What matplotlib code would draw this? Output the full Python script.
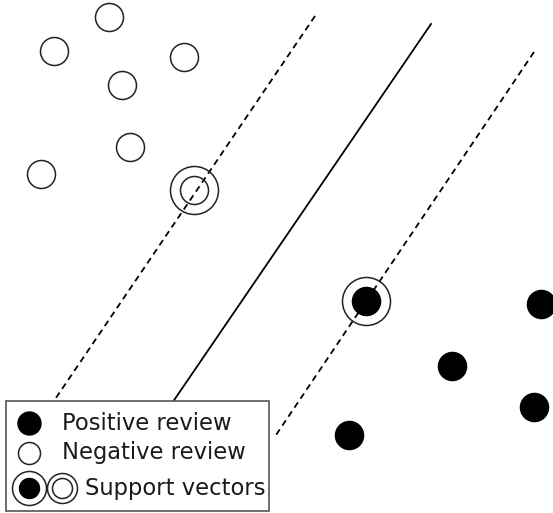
import matplotlib
matplotlib.use("Agg")
import matplotlib.pyplot as plt
from matplotlib.patches import Rectangle

# ------------------------
# Data (pixel-like coordinates, y grows downward)
# ------------------------
neg_x = [109, 54, 184, 122, 130, 41, 194]
neg_y = [17, 51, 57, 85, 147, 174, 190]
pos_x = [366, 541, 452, 534, 349]
pos_y = [301, 304, 366, 407, 435]
sv_x = [194, 366]
sv_y = [190, 301]

# hyperplane and margins (top end, bottom end)
hyper_x = [431, 125]
hyper_y = [24, 472]
margin_left_x = [315, 22]
margin_left_y = [16, 448]
margin_right_x = [534, 274]
margin_right_y = [52, 438]

legend_labels = ["Positive review", "Negative review", "Support vectors"]

PX = 72 / 100  # pixel -> point at dpi 100
EDGE = "#222222"

# ------------------------
# Figure
# ------------------------
fig = plt.figure(figsize=(5.53, 5.13), dpi=100)
ax = fig.add_axes([0, 0, 1, 1])
ax.set_xlim(0, 553)
ax.set_ylim(513, 0)
ax.axis("off")

ax.plot(hyper_x, hyper_y, color="black", lw=1.3, zorder=1)
for lx, ly in [(margin_left_x, margin_left_y), (margin_right_x, margin_right_y)]:
    ax.plot(lx, ly, color="black", lw=1.3, linestyle=(0, (3.5, 2.5)), zorder=1)

ax.plot(neg_x, neg_y, "o", ms=28 * PX, mfc="none", mec=EDGE, mew=1.1,
        ls="none", zorder=3)
ax.plot(pos_x, pos_y, "o", ms=28 * PX, mfc="black", mec="black", mew=1.1,
        ls="none", zorder=3)
ax.plot(sv_x, sv_y, "o", ms=48 * PX, mfc="none", mec=EDGE, mew=1.1,
        ls="none", zorder=3)

# ------------------------
# Legend box (drawn by hand so the last row can hold two symbols)
# ------------------------
box_x, box_y, box_w, box_h = 6, 401, 263, 110
ax.add_patch(Rectangle((box_x, box_y), box_w, box_h, facecolor="white",
                       edgecolor="#555555", lw=1.2, zorder=5))
row_y = [423, 453, 488]

ax.plot(29, row_y[0], "o", ms=23 * PX, mfc="black", mec="black", zorder=6)
ax.plot(29, row_y[1], "o", ms=22 * PX, mfc="white", mec=EDGE, mew=1.1, zorder=6)
ax.plot(29, row_y[2], "o", ms=34 * PX, mfc="white", mec=EDGE, mew=1.1, zorder=6)
ax.plot(29, row_y[2], "o", ms=20 * PX, mfc="black", mec="black", zorder=7)
ax.plot(62, row_y[2], "o", ms=30 * PX, mfc="white", mec=EDGE, mew=1.1, zorder=6)
ax.plot(62, row_y[2], "o", ms=20 * PX, mfc="white", mec=EDGE, mew=1.1, zorder=7)

text_x = [62, 62, 85]
for tx, ty, lab in zip(text_x, row_y, legend_labels):
    ax.text(tx, ty, lab, fontsize=16.3, color="#1a1a1a", va="center",
            ha="left", zorder=8)

fig.savefig("out.png", dpi=100)
